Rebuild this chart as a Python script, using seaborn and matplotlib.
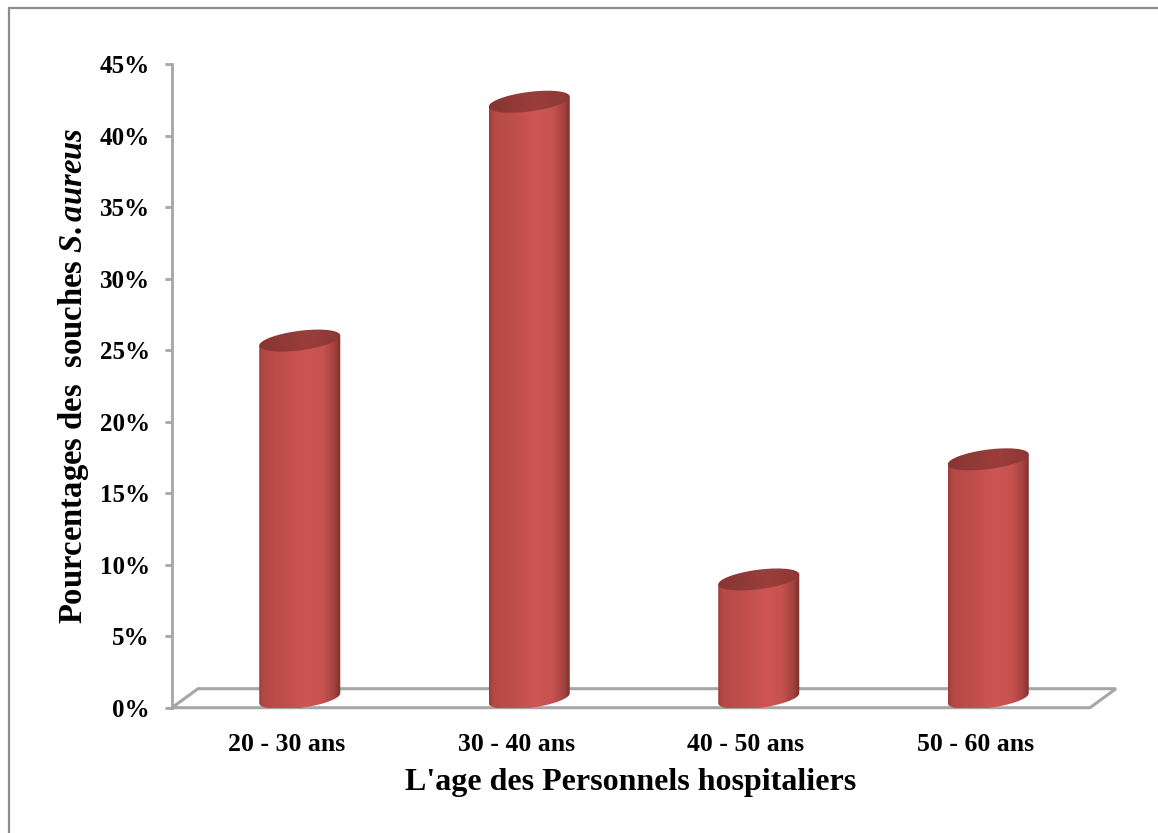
import numpy as np
import pandas as pd
import seaborn as sns
import matplotlib
matplotlib.use("Agg")
import matplotlib.pyplot as plt
from matplotlib.patches import Polygon
from matplotlib.lines import Line2D
from matplotlib.colors import LinearSegmentedColormap

# ---- data -------------------------------------------------------------
categories = ["20 - 30 ans", "30 - 40 ans", "40 - 50 ans", "50 - 60 ans"]
percentages = [25.0, 41.7, 8.3, 16.7]
ytick_values = [0, 5, 10, 15, 20, 25, 30, 35, 40, 45]
ytick_labels = [f"{v}%" for v in ytick_values]
x_title = "L'age des Personnels hospitaliers"
y_title = r"Pourcentages des  souches $\mathit{S.aureus}$"

# ---- style ------------------------------------------------------------
sns.set_theme(style="white")
plt.rcParams["font.family"] = ["Liberation Serif", "DejaVu Serif"]
plt.rcParams["font.weight"] = "bold"
plt.rcParams["text.color"] = "black"
plt.rcParams["mathtext.fontset"] = "custom"
plt.rcParams["mathtext.rm"] = "Liberation Serif:bold"
plt.rcParams["mathtext.it"] = "Liberation Serif:italic:bold"

W, H = 1158, 833
fig = plt.figure(figsize=(W / 100, H / 100), dpi=100)
fig.patch.set_facecolor("white")

# plot area = front plane of the 3-D floor
left_px, right_px, top_px, bot_px = 172, 1090, 64, 707.7
ax = fig.add_axes([left_px / W, 1 - bot_px / H,
                   (right_px - left_px) / W, (bot_px - top_px) / H])

df = pd.DataFrame({"age": categories, "pct": percentages})
bar_width = 0.353
sns.barplot(data=df, x="age", y="pct", ax=ax, width=bar_width,
            color="#c0504d", saturation=1, errorbar=None, zorder=2)

ax.set_xlim(-0.5, 3.5)
ax.set_ylim(0, 45)

# pixel -> data scale factors
px_x = 4.0 / (right_px - left_px)
px_y = 45.0 / (bot_px - top_px)

# depth of the floor (half is where the bars stand)
depth_dx, depth_dy = 26 * px_x, 19 * px_y
half_dx, half_dy = depth_dx / 2, depth_dy / 2
ell_b = 9.8 * px_y    # minor half-axis of the cylinder caps
ell_s = 5 * px_y      # tilt of the caps

floor_color = "#a6a6a6"
floor = Polygon([(-0.5, 0), (3.5, 0), (3.5 + depth_dx, depth_dy),
                 (-0.5 + depth_dx, depth_dy)], closed=True,
                facecolor="none", edgecolor=floor_color, lw=2.2,
                clip_on=False, zorder=1, joinstyle="miter")
ax.add_patch(floor)

body_cmap = LinearSegmentedColormap.from_list("body", [
    (0.00, "#9a3c39"), (0.05, "#b34946"), (0.30, "#c04e4b"),
    (0.58, "#cd5653"), (0.78, "#c6524f"), (0.92, "#a3423f"),
    (1.00, "#7a2e2c")])
cap_cmap = LinearSegmentedColormap.from_list("cap", [
    (0.0, "#873533"), (0.6, "#9a3e3b"), (1.0, "#8c3735")])

t = np.linspace(0, 2 * np.pi, 200)
grad = np.linspace(0, 1, 256)[None, :]

bars = [p for p in ax.patches if p is not floor]
for patch in bars:
    x0 = patch.get_x() + half_dx
    w = patch.get_width()
    v = patch.get_height()
    a = w / 2
    cx = x0 + a
    y_bot = half_dy
    y_top = v + half_dy
    patch.set_x(x0)
    patch.set_y(y_bot)
    patch.set_facecolor("none")
    patch.set_edgecolor("none")

    # outline of the cylinder body: sides plus the lower half of the base
    tb = np.linspace(np.pi, 2 * np.pi, 100)
    base = np.column_stack([cx + a * np.cos(tb),
                            y_bot + ell_b * np.sin(tb) + ell_s * np.cos(tb)])
    body_pts = np.vstack([[x0, y_top - ell_s], base, [x0 + w, y_top + ell_s]])
    body = Polygon(body_pts, closed=True, facecolor="none", edgecolor="none",
                   transform=ax.transData, clip_on=False)
    ax.add_patch(body)
    im = ax.imshow(grad, cmap=body_cmap, aspect="auto", interpolation="bilinear",
                   extent=[x0, x0 + w, y_bot - 2 * ell_b, y_top + 2 * ell_b],
                   zorder=3)
    im.set_clip_path(body)
    im.set_clip_box(None)

    # top cap
    cap_pts = np.column_stack([cx + a * np.cos(t),
                               y_top + ell_b * np.sin(t) + ell_s * np.cos(t)])
    cap = Polygon(cap_pts, closed=True, facecolor="none", edgecolor="none",
                  transform=ax.transData, clip_on=False)
    ax.add_patch(cap)
    im2 = ax.imshow(grad, cmap=cap_cmap, aspect="auto", interpolation="bilinear",
                    extent=[x0, x0 + w, y_top - 2 * ell_b, y_top + 2 * ell_b],
                    zorder=4)
    im2.set_clip_path(cap)
    im2.set_clip_box(None)

ax.set_xlim(-0.5, 3.5)
ax.set_ylim(0, 45)

# axes decoration
for side in ["top", "right", "bottom"]:
    ax.spines[side].set_visible(False)
ax.spines["left"].set_color(floor_color)
ax.spines["left"].set_linewidth(2)
ax.set_yticks(ytick_values)
ax.set_yticklabels(ytick_labels)
ax.tick_params(axis="y", which="both", left=True, length=5, width=2,
               color=floor_color, pad=11, labelsize=18)
ax.tick_params(axis="x", length=0, pad=18, labelsize=18.5)
for lab in ax.get_xticklabels() + ax.get_yticklabels():
    lab.set_fontweight("bold")
    lab.set_color("black")

ax.set_xlabel(x_title, fontsize=23, fontweight="bold", labelpad=9, color="black")
ax.set_ylabel(y_title, fontsize=23.5, fontweight="bold", labelpad=6, color="black")
ax.yaxis.label.set_y((bot_px - 376) / (bot_px - top_px))
ax.grid(False)
ax.set_facecolor("none")

# chart frame (runs off the right and bottom edges)
fig.add_artist(Line2D([8.5 / W, 8.5 / W], [0, 1 - 8 / H], color="#8c8c8c", lw=1.6))
fig.add_artist(Line2D([8.5 / W, 1], [1 - 8 / H, 1 - 8 / H], color="#8c8c8c", lw=1.6))

fig.savefig("out.png", dpi=100, facecolor="white")
